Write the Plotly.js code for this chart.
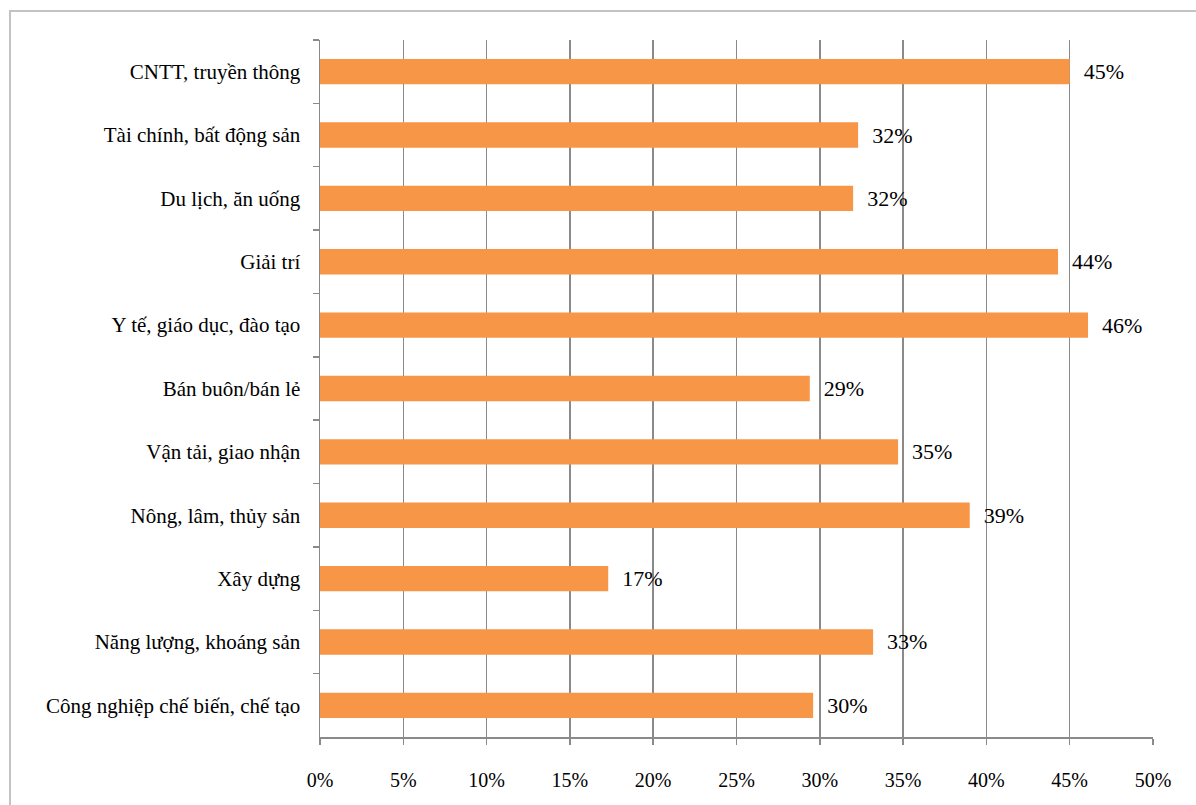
<!DOCTYPE html>
<html>
<head>
<meta charset="utf-8">
<script src="https://cdn.plot.ly/plotly-3.0.1.min.js"></script>
<style>
  html, body { margin: 0; padding: 0; background: #ffffff; overflow: hidden; }
  #frame { position: absolute; left: 9px; top: 10px; width: 1300px; height: 900px;
           border-left: 2px solid #c3c3c3; border-top: 2px solid #c3c3c3; }
  #chart { position: absolute; left: 0; top: 0; width: 1196px; height: 805px; }
</style>
</head>
<body>
<div id="frame"></div>
<div id="chart"></div>
<script>
// Categories (top to bottom as drawn)
const categories = [
  "CNTT, truyền thông",
  "Tài chính, bất động sản",
  "Du lịch, ăn uống",
  "Giải trí",
  "Y tế, giáo dục, đào tạo",
  "Bán buôn/bán lẻ",
  "Vận tải, giao nhận",
  "Nông, lâm, thủy sản",
  "Xây dựng",
  "Năng lượng, khoáng sản",
  "Công nghiệp chế biến, chế tạo"
];
// Share of firms (fraction)
const shares = [0.450, 0.323, 0.320, 0.443, 0.461, 0.294, 0.347, 0.390, 0.173, 0.332, 0.296];
const xTickValues = [0, 0.05, 0.10, 0.15, 0.20, 0.25, 0.30, 0.35, 0.40, 0.45, 0.50];

const SERIF = "Times New Roman, Tinos, DejaVu Serif, serif";

const trace = {
  type: "bar",
  orientation: "h",
  y: categories,
  x: shares,
  marker: { color: "#F79646" },
  texttemplate: "\u00a0\u00a0%{x:.0%}",
  textposition: "outside",
  cliponaxis: false,
  textfont: { family: SERIF, size: 22, color: "#000000" },
  hoverinfo: "skip"
};

const layout = {
  width: 1196,
  height: 805,
  margin: { l: 320, r: 43, t: 40, b: 68 },
  paper_bgcolor: "rgba(0,0,0,0)",
  plot_bgcolor: "rgba(0,0,0,0)",
  showlegend: false,
  bargap: 0.6,
  font: { family: SERIF, size: 20, color: "#000000" },
  xaxis: {
    range: [0, 0.5],
    tickvals: xTickValues,
    tickformat: ".0%",
    showgrid: true,
    gridcolor: "#8a8a8a",
    gridwidth: 1.5,
    zeroline: false,
    showline: true,
    linecolor: "#8a8a8a",
    linewidth: 1.5,
    ticks: "outside",
    ticklen: 6,
    tickcolor: "#8a8a8a",
    tickwidth: 1.5,
    ticklabelstandoff: 18,
    tickfont: { family: SERIF, size: 20, color: "#000000" },
    fixedrange: true
  },
  yaxis: {
    type: "category",
    autorange: "reversed",
    showgrid: false,
    zeroline: false,
    showline: true,
    linecolor: "#8a8a8a",
    linewidth: 1.5,
    ticks: "outside",
    tickson: "boundaries",
    ticklen: 6,
    tickcolor: "#8a8a8a",
    tickwidth: 1.5,
    ticklabelstandoff: 14,
    tickfont: { family: SERIF, size: 21, color: "#000000" },
    fixedrange: true
  }
};

Plotly.newPlot("chart", [trace], layout, { displayModeBar: false, staticPlot: true });
</script>
</body>
</html>
